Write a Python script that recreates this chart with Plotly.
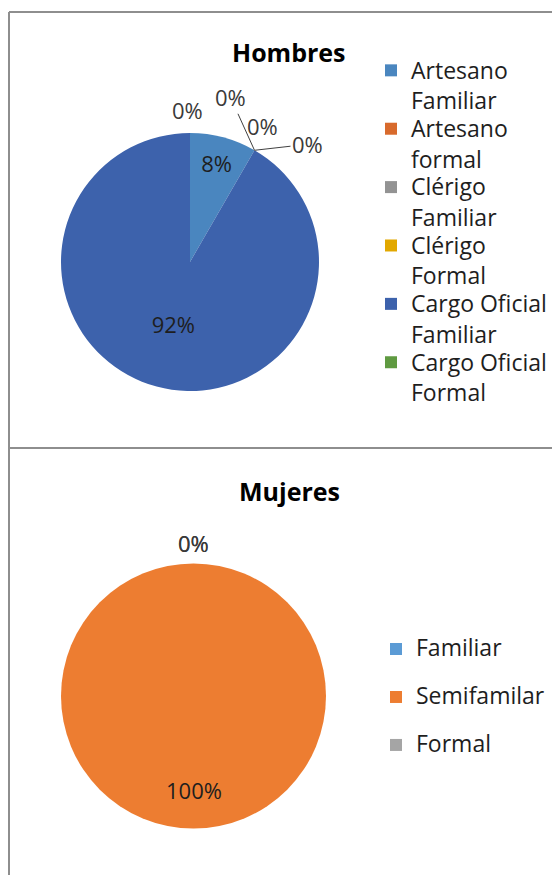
import math
import plotly.graph_objects as go

# ---- data ----
hombres_labels = ["Artesano Familiar", "Artesano formal", "Clérigo Familiar",
                  "Clérigo Formal", "Cargo Oficial Familiar", "Cargo Oficial Formal"]
hombres_values = [1, 0, 0, 0, 11, 0]
hombres_colors = ["#4A86BF", "#D86A2C", "#939393", "#E2A800", "#3D62AC", "#5F9A41"]

mujeres_labels = ["Familiar", "Semifamilar", "Formal"]
mujeres_values = [0, 1, 0]
mujeres_colors = ["#5B9BD5", "#ED7D31", "#A5A5A5"]

# page body has an 8px margin, so the figure is laid out in reference pixels minus 8
OFF = 8
W, H = 560 - OFF, 875 - OFF
FONT = "Open Sans"
TXT = 23
LBL = 22

# label placement (pixel offsets from the slice edge on the rim) for zero-size slices
hombres_zero_offsets = [(-24, -53, True), (8, -24, False), (53, -6, True), (-2, -23, False)]
mujeres_zero_offsets = [(0, -21, False), (0, -21, False)]


def px_x(x):
    return (x - OFF) / W


def px_y(y):
    return 1 - (y - OFF) / H


def span(t, size=TXT, extra=""):
    return f"<span style='font-size:{size}px{extra}'>{t}</span>"


def wrap(label):
    parts = label.rsplit(" ", 1)
    if len(parts) == 1:
        return span(label)
    return span(parts[0]) + "<br>" + span(parts[1], extra=";baseline-shift:-3px")


def positions(values):
    total = sum(values)
    return ["inside" if 0 < v < total else "none" for v in values]


def extra_labels(values, cx, cy, r, zero_offsets):
    """Percent labels that plotly cannot place like the original: zero slices and a full circle."""
    total = sum(values)
    anns = []
    cum = 0
    zi = 0
    for v in values:
        txt = f"{v / total:.0%}"
        if v == 0:
            ang = 2 * math.pi * cum / total
            x = cx + r * math.sin(ang)
            y = cy - r * math.cos(ang)
            dx, dy, arrow = zero_offsets[zi]
            zi += 1
            a = dict(text=txt, x=px_x(x), y=px_y(y), xref="paper", yref="paper",
                     xanchor="center", yanchor="middle",
                     font=dict(family=FONT, size=LBL, color="#3a3a3a"))
            if arrow:
                a.update(showarrow=True, ax=dx, ay=dy, arrowhead=0, arrowwidth=1,
                         arrowcolor="#404040", standoff=0, startstandoff=0)
            else:
                a.update(showarrow=False, xshift=dx, yshift=-dy)
            anns.append(a)
        elif v == total:
            ang = 2 * math.pi * (cum + v / 2) / total
            x = cx + 0.71 * r * math.sin(ang)
            y = cy - 0.71 * r * math.cos(ang)
            anns.append(dict(text=txt, x=px_x(x), y=px_y(y), xref="paper", yref="paper",
                             xanchor="center", yanchor="middle", showarrow=False,
                             font=dict(family=FONT, size=LBL, color="#1e1e1e")))
        cum += v
    return anns


fig = go.Figure()

top_c, top_r = (190, 262), 129
bot_c, bot_r = (193.5, 696), 132.5

fig.add_trace(go.Pie(
    labels=[wrap(l) for l in hombres_labels],
    values=hombres_values,
    marker=dict(colors=hombres_colors, line=dict(color="white", width=0)),
    sort=False, direction="clockwise", rotation=0,
    texttemplate="%{percent:.0%}",
    textposition=positions(hombres_values),
    insidetextorientation="horizontal",
    insidetextfont=dict(family=FONT, size=LBL, color="#1e1e1e"),
    domain=dict(x=[px_x(top_c[0] - top_r), px_x(top_c[0] + top_r)],
                y=[px_y(top_c[1] + top_r), px_y(top_c[1] - top_r)]),
    legend="legend",
    hoverinfo="label+percent",
))

fig.add_trace(go.Pie(
    labels=[span(l, extra=";baseline-shift:6px") for l in mujeres_labels],
    values=mujeres_values,
    marker=dict(colors=mujeres_colors, line=dict(color="white", width=0)),
    sort=False, direction="clockwise", rotation=0,
    texttemplate="%{percent:.0%}",
    textposition=positions(mujeres_values),
    insidetextorientation="horizontal",
    insidetextfont=dict(family=FONT, size=LBL, color="#1e1e1e"),
    domain=dict(x=[px_x(bot_c[0] - bot_r), px_x(bot_c[0] + bot_r)],
                y=[px_y(bot_c[1] + bot_r), px_y(bot_c[1] - bot_r)]),
    legend="legend2",
    hoverinfo="label+percent",
))

frame = "#8E8E8E"
shapes = [
    dict(type="line", xref="paper", yref="paper", x0=px_x(9), x1=px_x(9), y0=0, y1=px_y(12),
         line=dict(color=frame, width=2)),
    dict(type="line", xref="paper", yref="paper", x0=px_x(9), x1=1, y0=px_y(12), y1=px_y(12),
         line=dict(color=frame, width=2)),
    dict(type="line", xref="paper", yref="paper", x0=px_x(9), x1=1, y0=px_y(448), y1=px_y(448),
         line=dict(color=frame, width=2)),
]

annotations = [
    dict(text="<b>Hombres</b>", x=px_x(289), y=px_y(52), xref="paper", yref="paper",
         xanchor="center", yanchor="middle", showarrow=False,
         font=dict(family=FONT, size=25, color="#000000")),
    dict(text="<b>Mujeres</b>", x=px_x(289), y=px_y(491), xref="paper", yref="paper",
         xanchor="center", yanchor="middle", showarrow=False,
         font=dict(family=FONT, size=25, color="#000000")),
]
annotations += extra_labels(hombres_values, top_c[0], top_c[1], top_r, hombres_zero_offsets)
annotations += extra_labels(mujeres_values, bot_c[0], bot_c[1], bot_r, mujeres_zero_offsets)

fig.update_layout(
    width=W, height=H,
    margin=dict(l=0, r=0, t=0, b=0),
    paper_bgcolor="white", plot_bgcolor="white",
    shapes=shapes, annotations=annotations,
    legend=dict(x=px_x(371), y=px_y(50), xanchor="left", yanchor="top",
                valign="top", font=dict(family=FONT, size=21.3, color="#1e1e1e"),
                bgcolor="rgba(0,0,0,0)"),
    legend2=dict(x=px_x(376), y=px_y(620), xanchor="left", yanchor="top",
                 font=dict(family=FONT, size=34.6, color="#1e1e1e"),
                 bgcolor="rgba(0,0,0,0)"),
)

fig.write_html("out.html")
